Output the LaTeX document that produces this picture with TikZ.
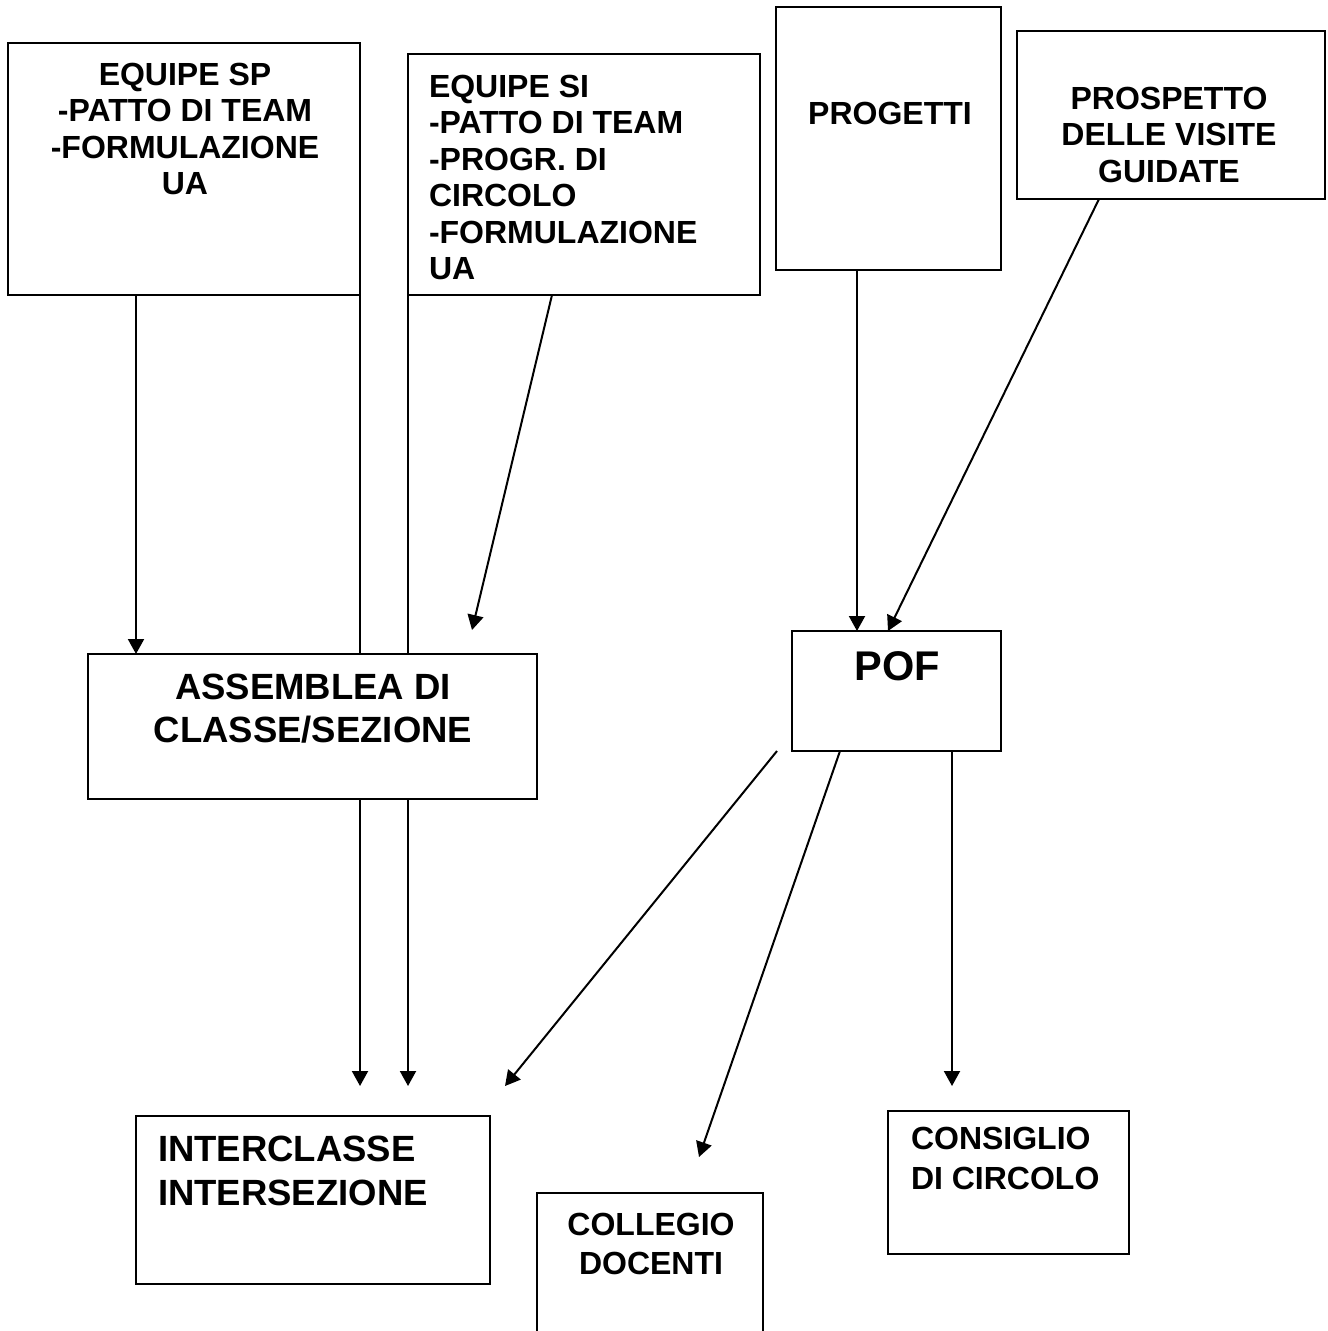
\documentclass[tikz,border=0pt]{standalone}
\usepackage{fontspec}
\setmainfont{Liberation Sans}
\usetikzlibrary{arrows.meta}
\pgfdeclarelayer{paper}
\pgfdeclarelayer{conn}
\pgfsetlayers{paper,conn,main}
\tikzset{
  box/.style={draw, line width=2pt, fill=white, inner sep=0pt, outer sep=0pt, anchor=north west},
  txt/.style={inner sep=0pt, outer sep=0pt, font=\bfseries\fontsize{32}{36.5}\selectfont},
  bigtxt/.style={inner sep=0pt, outer sep=0pt, font=\bfseries\fontsize{36.5}{43.5}\selectfont},
  arr/.style={line width=2pt, -{Triangle[length=15pt,width=16pt]}},
  openbox/.style={line width=2pt}
}
\begin{document}
\begin{tikzpicture}[x=1pt,y=-1pt]
\useasboundingbox (0,0) rectangle (1328,1331);
\begin{pgfonlayer}{paper}
\fill[white] (0,0) rectangle (1328,1331);
\end{pgfonlayer}

% boxes
\node[box, minimum width=352pt, minimum height=252pt] (sp) at (8,43) {};
\node[box, minimum width=352pt, minimum height=241pt] (si) at (408,54) {};
\node[box, minimum width=225pt, minimum height=263pt] (prog) at (776,7) {};
\node[box, minimum width=308pt, minimum height=168pt] (prosp) at (1017,31) {};
\node[box, minimum width=449pt, minimum height=145pt] (ass) at (88,654) {};
\node[box, minimum width=209pt, minimum height=120pt] (pof) at (792,631) {};
\node[box, minimum width=354pt, minimum height=168pt] (int) at (136,1116) {};
\node[box, minimum width=241pt, minimum height=143pt] (cons) at (888,1111) {};
\draw[openbox] (537,1335) -- (537,1193) -- (763,1193) -- (763,1335);

% texts
\node[txt, align=center, anchor=north] (sptxt) at (185,63) {EQUIPE SP\\-PATTO DI TEAM\\-FORMULAZIONE\\UA};
\node[txt, align=left, anchor=north west] (sitxt) at (429,75) {EQUIPE SI\\-PATTO DI TEAM\\-PROGR. DI\\CIRCOLO\\-FORMULAZIONE\\UA};
\node[txt, anchor=north] (progtxt) at (890,102) {PROGETTI};
\node[txt, align=center, anchor=north] (prosptxt) at (1169,87) {PROSPETTO\\DELLE VISITE\\GUIDATE};
\node[bigtxt, align=center, anchor=north] (asstxt) at (313,674) {ASSEMBLEA DI\\CLASSE/SEZIONE};
\node[inner sep=0pt, outer sep=0pt, font=\bfseries\fontsize{41.5}{48}\selectfont, anchor=north] (poftxt) at (897,652) {POF};
\node[bigtxt, align=left, anchor=north west] (inttxt) at (158,1136) {INTERCLASSE\\INTERSEZIONE};
\node[txt, align=center, anchor=north, font=\bfseries\fontsize{32}{39}\selectfont] (coltxt) at (651,1213) {COLLEGIO\\DOCENTI};
\node[txt, align=left, anchor=north west, font=\bfseries\fontsize{32}{40}\selectfont] (constxt) at (911,1127) {CONSIGLIO\\DI CIRCOLO};

% free ends
\coordinate (t1) at (360,1086);
\coordinate (t2) at (408,1086);
\coordinate (t3) at (472,630);
\coordinate (s7) at (777,751);
\coordinate (t7) at (505,1086);
\coordinate (t8) at (699,1157);
\coordinate (t9) at (952,1086);
\coordinate (p1) at ([xshift=128pt]sp.south west);
\coordinate (p5) at ([xshift=81pt]prog.south west);

% connectors
\begin{pgfonlayer}{conn}
\draw[arr] (p1) -- (p1 |- ass.north);
\draw[arr] (sp.south east) -- (t1);
\draw[arr] (si.south west) -- (t2);
\draw[arr] ([xshift=144pt]si.south west) -- (t3);
\draw[arr] (p5) -- (p5 |- pof.north);
\draw[arr] ([xshift=82pt]prosp.south west) -- ([xshift=96pt]pof.north west);
\draw[arr] (s7) -- (t7);
\draw[arr] ([xshift=48pt]pof.south west) -- (t8);
\draw[arr] ([xshift=160pt]pof.south west) -- (t9);
\end{pgfonlayer}
\end{tikzpicture}
\end{document}
